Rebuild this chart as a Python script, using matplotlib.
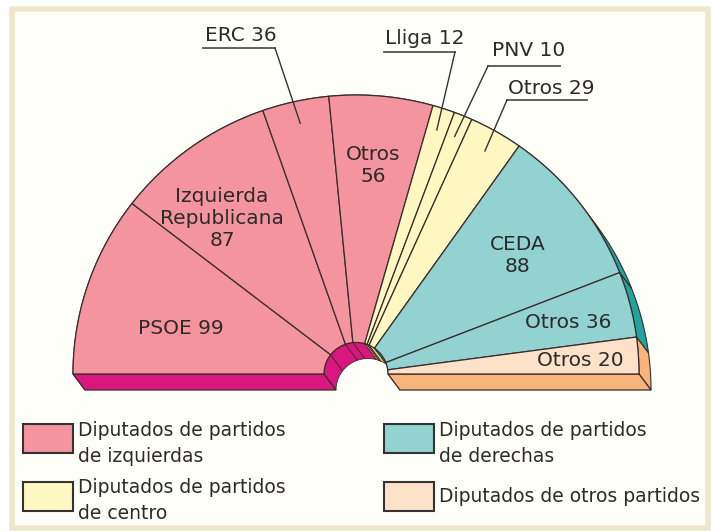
import numpy as np
import matplotlib
matplotlib.use('Agg')
import matplotlib.pyplot as plt
from matplotlib.patches import Polygon, Rectangle

plt.rcParams['font.family'] = ['DejaVu Sans']

# ---------------- data ----------------
parties = ['PSOE', 'Izquierda\nRepublicana', 'ERC', 'Otros', 'Lliga', 'PNV',
           'Otros', 'CEDA', 'Otros', 'Otros']
seats = [99, 87, 36, 56, 12, 10, 29, 88, 36, 20]
groups = ['izq', 'izq', 'izq', 'izq', 'centro', 'centro', 'centro',
          'der', 'der', 'otros']
legend_groups = ['izq', 'der', 'centro', 'otros']
legend_texts = ['Diputados de partidos\nde izquierdas',
                'Diputados de partidos\nde derechas',
                'Diputados de partidos\nde centro',
                'Diputados de otros partidos']

# ---------------- styles ----------------
top_col = {'izq': '#f3949f', 'centro': '#fff7c2', 'der': '#92d2d0', 'otros': '#fde2c9'}
side_col = {'izq': '#d9177f', 'centro': '#e8d67c', 'der': '#1fa59e', 'otros': '#f7b57b'}
edge = '#3a2c2c'
txt = '#2e2a2a'

W, H = 712, 532
cx, cy = 356, 374          # pie centre (pixels)
rx, ry = 283, 279          # outer radii
rix, riy = 32, 31.5        # inner radii
ex, ey = 12, 16            # extrusion (3D depth) vector
FS = 14.5
LFS = 13.5

# label layout: ('in', x, y, sep) or ('lead', tx, tbase, ux0, ux1, uy, anchor)
label_layout = [
    ('in', 181, 328, ' '),
    ('in', 222, 219, '\n'),
    ('lead', 205, 41, 203, 275, 48, 'right'),
    ('in', 373, 165, '\n'),
    ('lead', 385, 44, 384, 455, 52, 'right'),
    ('lead', 492, 56, 488, 560, 66, 'left'),
    ('lead', 508, 94, 507, 587, 100, 'left'),
    ('in', 518, 256, '\n'),
    ('in', 568, 322, ' '),
    ('in', 580, 360, ' '),
]

fig = plt.figure(figsize=(W / 100, H / 100), dpi=100)
ax = fig.add_axes([0, 0, 1, 1])
ax.set_xlim(0, W)
ax.set_ylim(H, 0)
ax.axis('off')
fig.patch.set_facecolor('white')

# frame
ax.add_patch(Rectangle((12, 9), 696, 519, facecolor='#fffffa', edgecolor='#efe6cc',
                       lw=4, zorder=0))


def arc(t1, t2, a, b, n=80):
    t = np.radians(np.linspace(t1, t2, n))
    return np.column_stack([cx + a * np.cos(t), cy - b * np.sin(t)])


total = sum(seats)
cum = np.concatenate([[0], np.cumsum(seats)])
starts = 180 - 180 * cum[:-1] / total
ends = 180 - 180 * cum[1:] / total
E = np.array([ex, ey])

# side faces
for i, g in enumerate(groups):
    t_hi, t_lo = starts[i], ends[i]
    outer = arc(t_hi, t_lo, rx, ry)
    band = np.vstack([outer, (outer + E)[::-1]])
    ax.add_patch(Polygon(band, closed=True, facecolor=side_col[g], edgecolor=edge,
                         lw=0.8, zorder=2))
for i, g in enumerate(groups):
    t_hi, t_lo = starts[i], ends[i]
    inner = arc(t_hi, t_lo, rix, riy)
    band = np.vstack([inner, (inner + E)[::-1]])
    ax.add_patch(Polygon(band, closed=True, facecolor=side_col[g], edgecolor=edge,
                         lw=0.6, zorder=2.1))
for i in (0, len(seats) - 1):
    g = groups[i]
    t = starts[i] if i == 0 else ends[i]
    p_out = arc(t, t, rx, ry, 1)[0]
    p_in = arc(t, t, rix, riy, 1)[0]
    quad = np.array([p_out, p_in, p_in + E, p_out + E])
    ax.add_patch(Polygon(quad, closed=True, facecolor=side_col[g], edgecolor=edge,
                         lw=0.9, zorder=2.2))

# top faces
mids = []
for i, g in enumerate(groups):
    t_hi, t_lo = starts[i], ends[i]
    outer = arc(t_hi, t_lo, rx, ry)
    inner = arc(t_lo, t_hi, rix, riy)
    ax.add_patch(Polygon(np.vstack([outer, inner]), closed=True, facecolor=top_col[g],
                         edgecolor=edge, lw=0.9, zorder=3))
    mids.append((t_hi + t_lo) / 2)

# labels
for i, lay in enumerate(label_layout):
    if lay[0] == 'in':
        _, x, y, sep = lay
        ax.text(x, y, f'{parties[i]}{sep}{seats[i]}', ha='center', va='center',
                fontsize=FS, color=txt, linespacing=1.2, zorder=6)
    else:
        _, tx, tb, ux0, ux1, uy, anchor = lay
        ax.text(tx, tb, f'{parties[i]} {seats[i]}', ha='left', va='baseline',
                fontsize=FS, color=txt, zorder=6)
        ax.plot([ux0, ux1], [uy, uy], color='#555555', lw=1.3, zorder=6)
        sx = ux1 if anchor == 'right' else ux0
        m = np.radians(mids[i])
        px = cx + 0.92 * rx * np.cos(m)
        py = cy - 0.92 * ry * np.sin(m)
        ax.plot([sx, px], [uy, py], color='#333333', lw=1.0, zorder=6)

# legend
leg_pos = [(23, 424, 436), (384, 424, 436), (23, 482, 493), (384, 482, 502)]
for (bx, by, base), g, t in zip(leg_pos, legend_groups, legend_texts):
    ax.add_patch(Rectangle((bx, by), 50, 29, facecolor=top_col[g], edgecolor='#333333',
                           lw=1.5, zorder=4))
    for k, line in enumerate(t.split('\n')):
        ax.text(bx + 55, base + 26 * k, line, ha='left', va='baseline',
                fontsize=LFS, color=txt, zorder=6)

fig.savefig('out.png', dpi=100)
